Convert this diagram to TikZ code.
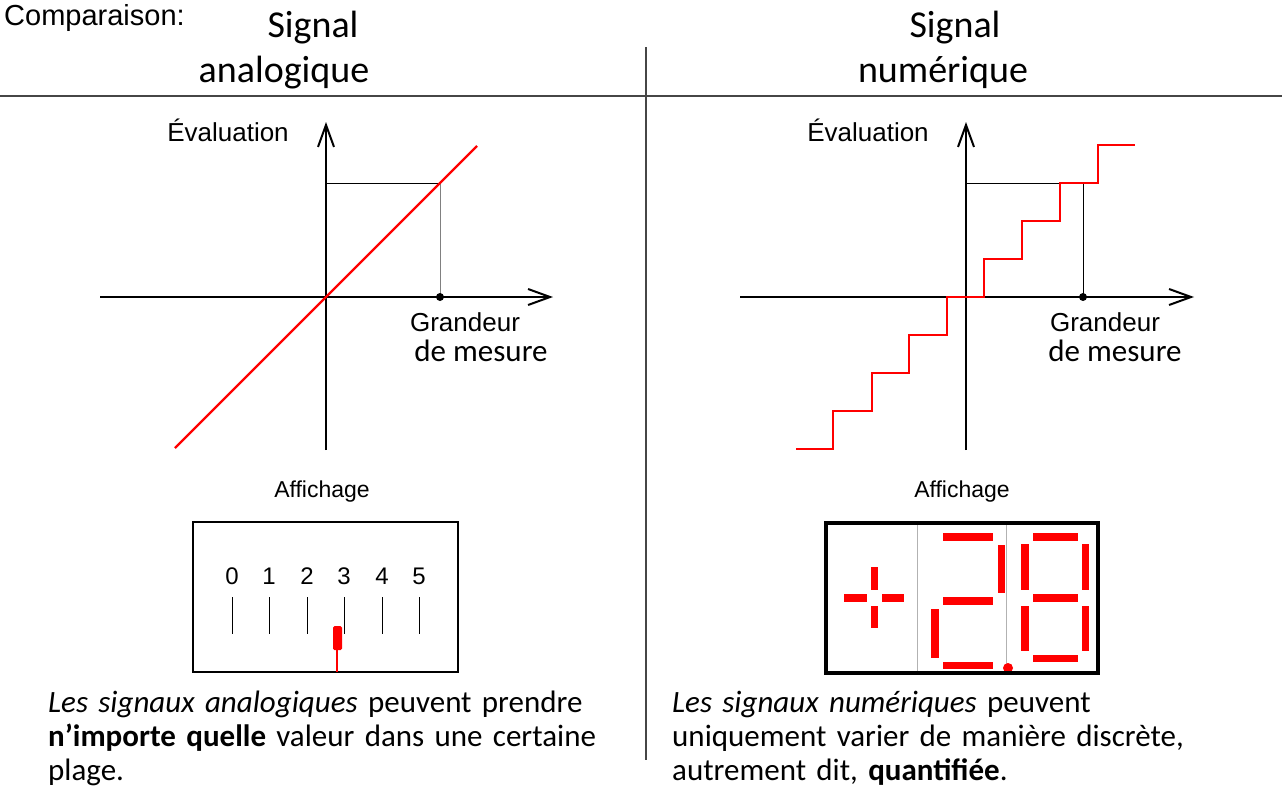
\documentclass[tikz,border=0pt]{standalone}
\usepackage{fontspec}
\setmainfont{Carlito}
\newfontfamily\arialf{Liberation Sans}
\usetikzlibrary{arrows.meta}
\definecolor{segred}{RGB}{255,0,0}
\definecolor{rulegray}{RGB}{70,70,70}

\tikzset{
  axis/.style={line width=2pt,-{Straight Barb[length=22pt,width=16pt]}},
  guide/.style={line width=1pt},
  curve/.style={segred,line width=2.2pt},
  lbl/.style={font=\arialf\fontsize{26}{30}\selectfont,anchor=base,inner sep=0pt},
  title/.style={font=\fontsize{38}{44}\selectfont,anchor=base,inner sep=0pt},
  body/.style={font=\fontsize{31}{34}\selectfont,anchor=base west,inner sep=0pt,
    text width=620pt,align=left}
}
\newcommand{\segbar}[4]{\fill[segred] (#1,#2) rectangle (#3,#4);}

\begin{document}
\begin{tikzpicture}[x=1pt,y=-1pt]
  \useasboundingbox (0,0) rectangle (1282,803);

  % titre et separations
  \node[font=\arialf\fontsize{29}{32}\selectfont,anchor=base west,inner sep=0pt] (comp) at (4,25) {Comparaison:};
  \node[title] (sigA1) at (313,37) {Signal};
  \node[title] (sigA2) at (284,82) {analogique};
  \node[title] (sigN1) at (955,37) {Signal};
  \node[title] (sigN2) at (943,82) {numérique};
  \draw[rulegray,line width=1.5pt] (0,96) -- (1282,96);
  \draw[rulegray,line width=1.5pt] (646,47) -- (646,760);

  % signal analogique
  \coordinate (oA) at (326,297);
  \draw[axis] (100,297) -- (553,297);
  \draw[axis] (326,450) -- (326,122);
  \draw[guide] (oA |- 0,183) -- (440,183);
  \draw[guide,gray] (440,183) -- (440,297);
  \draw[curve] (175,448) -- (477,146);
  \fill (440,297) circle (4pt);
  \node[lbl] (evalA) at (228,141) {Évaluation};
  \node[lbl] (grandA) at (465,331) {Grandeur};
  \node[font=\fontsize{31}{34}\selectfont,anchor=base,inner sep=0pt] (mesA) at (481,361) {de mesure};

  % signal numerique
  \coordinate (oN) at (966,297);
  \draw[axis] (740,297) -- (1194,297);
  \draw[axis] (966,450) -- (966,122);
  \draw[guide] (oN |- 0,183) -- (1083,183) -- (1083,297);
  \draw[curve] (796,449) -| (833,411) -| (872,373) -| (909,335) -| (947,297)
    -| (984,259) -| (1022,221) -| (1060,183) -| (1098,145) -- (1135,145);
  \fill (1083,297) circle (4pt);
  \node[lbl] (evalN) at (868,141) {Évaluation};
  \node[lbl] (grandN) at (1105,331) {Grandeur};
  \node[font=\fontsize{31}{34}\selectfont,anchor=base,inner sep=0pt] (mesN) at (1115,361) {de mesure};

  % affichage analogique
  \node[lbl,font=\arialf\fontsize{23}{26}\selectfont] (affA) at (322,497) {Affichage};
  \draw[line width=2pt] (193,522) rectangle (458,672);
  \foreach \d/\x in {0/232,1/269,2/307,3/344,4/382,5/419}{
    \node[lbl,font=\arialf\fontsize{24}{26}\selectfont] (d\d) at (\x,584) {\d};
    \draw[guide] (\x,597) -- (\x,634);
  }
  \fill[segred,rounded corners=1.5pt] (333,626) rectangle (342,650);
  \draw[segred,line width=2pt] (337,650) -- (337,672);

  % affichage numerique
  \node[lbl,font=\arialf\fontsize{23}{26}\selectfont] (affN) at (962,497) {Affichage};
  \draw[gray!60,line width=1pt] (917,523) -- (917,673);
  \draw[gray!60,line width=1pt] (1006,523) -- (1006,673);
  \segbar{844}{594}{867}{602} \segbar{882}{594}{904}{602}
  \segbar{871}{567}{878}{590} \segbar{871}{606}{878}{628}
  \segbar{943}{533}{993}{541} \segbar{998}{545}{1005}{593}
  \segbar{943}{597}{993}{605} \segbar{931}{609}{939}{658}
  \segbar{943}{662}{993}{669}
  \segbar{1033}{533}{1078}{541} \segbar{1021}{544}{1029}{590}
  \segbar{1082}{544}{1089}{590} \segbar{1033}{594}{1078}{602}
  \segbar{1021}{606}{1029}{651} \segbar{1082}{606}{1089}{651}
  \segbar{1033}{655}{1078}{662}
  \fill[segred] (1008,668) circle (5pt);
  \draw[line width=4pt] (826,523) rectangle (1098,673);

  % textes
  \node[body] (txtA) at (48,712) {\textit{Les signaux analogiques} peuvent prendre\\
    \textbf{n’importe quelle} valeur dans une certaine\\ plage.};
  \node[body] (txtN) at (672,712) {\textit{Les signaux numériques} peuvent\\
    uniquement varier de manière discrète,\\ autrement dit, \textbf{quantifiée}.};
\end{tikzpicture}
\end{document}
